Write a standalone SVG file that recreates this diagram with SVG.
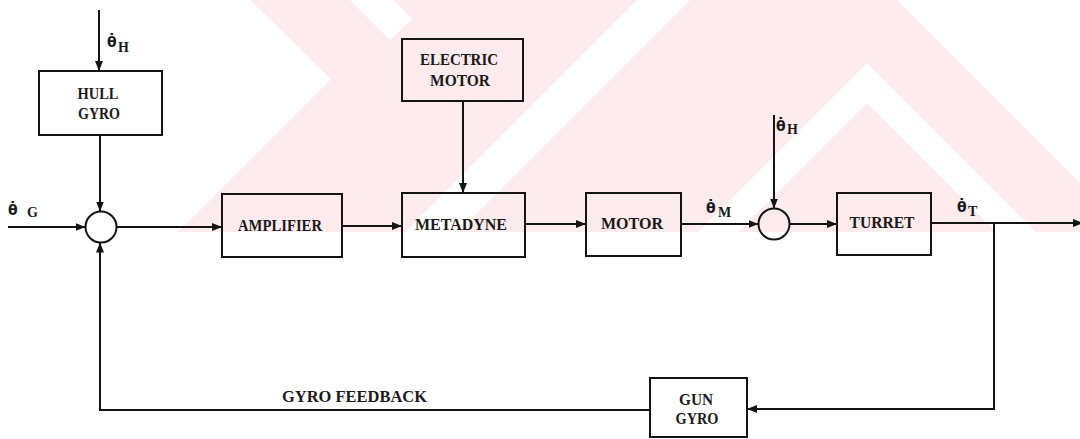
<svg xmlns="http://www.w3.org/2000/svg" width="1080" height="439" viewBox="0 0 1080 439">
<style>
.box{fill:none;stroke:#141414;stroke-width:2}
.sum{fill:none;stroke:#141414;stroke-width:2}
.ln{fill:none;stroke:#141414;stroke-width:2}
.lbl{font-family:"Liberation Serif","DejaVu Serif",serif;font-weight:bold;font-size:16px;fill:#1a1a1a;text-anchor:middle}
.lbls{font-family:"Liberation Serif","DejaVu Serif",serif;font-weight:bold;font-size:16px;fill:#1a1a1a}
.th{font-family:"DejaVu Sans",sans-serif;font-weight:bold;font-size:14px}
.sub{font-size:14px}
.wm{fill:#fdebee}
.wmw{fill:#ffffff}
</style>
<defs>
<marker id="ah" viewBox="0 0 10 8" refX="10" refY="4" markerWidth="10" markerHeight="8" markerUnits="userSpaceOnUse" orient="auto">
<path d="M0,0 L10,4 L0,8 z" fill="#141414"/>
</marker>
<clipPath id="wmclip"><rect x="0" y="0" width="1080" height="232"/></clipPath>
</defs>
<rect x="0" y="0" width="1080" height="439" fill="#ffffff"/>
<g id="watermark" clip-path="url(#wmclip)">
<polygon class="wm" points="250,0 331,79 178,232 1080,232 1080,0"/>
<polygon class="wmw" points="350,0 393,0 412,19 390,40"/>
<polygon class="wmw" points="637,0 690,0 458,232 405,232"/>
<polygon class="wmw" points="897,0 1080,0 1080,183"/>
<polygon class="wmw" points="867,63 1099,295 1059,295 867,103 698,272 658,272"/>
</g>
<g id="connectors">
<line class="ln" x1="99" y1="10" x2="99" y2="71" marker-end="url(#ah)"/>
<line class="ln" x1="100" y1="135" x2="100" y2="211.5" marker-end="url(#ah)"/>
<line class="ln" x1="8" y1="227" x2="85.5" y2="227" marker-end="url(#ah)"/>
<line class="ln" x1="116.5" y1="227" x2="222" y2="227" marker-end="url(#ah)"/>
<line class="ln" x1="342" y1="226" x2="402" y2="226" marker-end="url(#ah)"/>
<line class="ln" x1="463" y1="101" x2="463" y2="193" marker-end="url(#ah)"/>
<line class="ln" x1="525" y1="224" x2="586" y2="224" marker-end="url(#ah)"/>
<line class="ln" x1="681" y1="224" x2="758.5" y2="224" marker-end="url(#ah)"/>
<line class="ln" x1="774" y1="115" x2="774" y2="208.5" marker-end="url(#ah)"/>
<line class="ln" x1="789.5" y1="224" x2="837" y2="224" marker-end="url(#ah)"/>
<line class="ln" x1="931" y1="223" x2="1083" y2="223" marker-end="url(#ah)"/>
<polyline class="ln" points="994,223 994,409 747,409" marker-end="url(#ah)"/>
<polyline class="ln" points="650,410 100,410 100,242.5" marker-end="url(#ah)"/>
</g>
<g id="hull-gyro">
<rect class="box" x="39" y="71" width="123" height="64"/>
<text class="lbl" x="98" y="99" textLength="41" lengthAdjust="spacingAndGlyphs">HULL</text>
<text class="lbl" x="99" y="119" textLength="42" lengthAdjust="spacingAndGlyphs">GYRO</text>
</g>
<g id="sum1"><circle class="sum" cx="101" cy="227" r="15.5"/></g>
<g id="amplifier">
<rect class="box" x="222" y="194" width="120" height="63"/>
<text class="lbl" x="280" y="231" textLength="84" lengthAdjust="spacingAndGlyphs">AMPLIFIER</text>
</g>
<g id="electric-motor">
<rect class="box" x="402" y="39" width="121" height="62"/>
<text class="lbl" x="459" y="65" textLength="78" lengthAdjust="spacingAndGlyphs">ELECTRIC</text>
<text class="lbl" x="460" y="86" textLength="60" lengthAdjust="spacingAndGlyphs">MOTOR</text>
</g>
<g id="metadyne">
<rect class="box" x="402" y="193" width="123" height="64"/>
<text class="lbl" x="461" y="230" textLength="92" lengthAdjust="spacingAndGlyphs">METADYNE</text>
</g>
<g id="motor">
<rect class="box" x="586" y="193" width="95" height="63"/>
<text class="lbl" x="632" y="229" textLength="62" lengthAdjust="spacingAndGlyphs">MOTOR</text>
</g>
<g id="sum2"><circle class="sum" cx="774" cy="224" r="15.5"/></g>
<g id="turret">
<rect class="box" x="837" y="193" width="94" height="62"/>
<text class="lbl" x="882" y="228" textLength="65" lengthAdjust="spacingAndGlyphs">TURRET</text>
</g>
<g id="gun-gyro">
<rect class="box" x="650" y="378" width="97" height="59"/>
<text class="lbl" x="696" y="405" textLength="34" lengthAdjust="spacingAndGlyphs">GUN</text>
<text class="lbl" x="697" y="424" textLength="43" lengthAdjust="spacingAndGlyphs">GYRO</text>
</g>
<g id="labels">
<text class="lbls" x="107" y="47"><tspan class="th">θ̇</tspan><tspan class="sub" x="118" y="52">H</tspan></text>
<text class="lbls" x="8" y="215"><tspan class="th">θ̇</tspan><tspan class="sub" x="27" y="217">G</tspan></text>
<text class="lbls" x="706" y="213"><tspan class="th">θ̇</tspan><tspan class="sub" x="718" y="217">M</tspan></text>
<text class="lbls" x="776" y="131"><tspan class="th">θ̇</tspan><tspan class="sub" x="787" y="134">H</tspan></text>
<text class="lbls" x="957" y="212"><tspan class="th">θ̇</tspan><tspan class="sub" x="968" y="216">T</tspan></text>
<text class="lbls" x="282" y="402" textLength="145" lengthAdjust="spacingAndGlyphs">GYRO FEEDBACK</text>
</g>
</svg>
